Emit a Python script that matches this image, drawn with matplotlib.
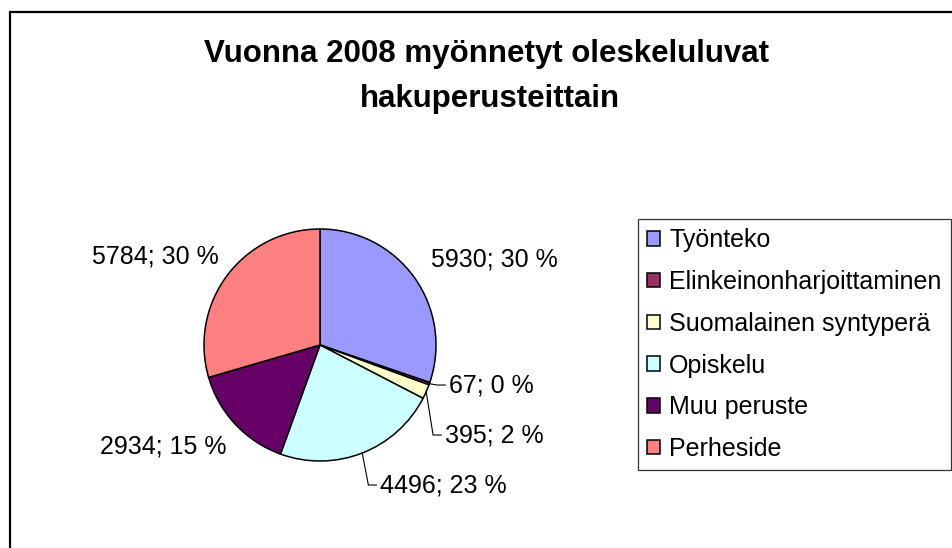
import matplotlib
matplotlib.use("Agg")
import matplotlib.pyplot as plt
import matplotlib.patches as mpatches
import numpy as np

# ---- data ----
categories = ["Työnteko", "Elinkeinonharjoittaminen", "Suomalainen syntyperä",
              "Opiskelu", "Muu peruste", "Perheside"]
values = [5930, 67, 395, 4496, 2934, 5784]
colors = ["#9999FF", "#993366", "#FFFFCC", "#CCFFFF", "#660066", "#FF8080"]
title_lines = ["Vuonna 2008 myönnetyt oleskeluluvat", "hakuperusteittain"]

# ---- layout ----
W, H = 952, 548
DPI = 100
plt.rcParams['font.family'] = ['Liberation Sans', 'DejaVu Sans']

fig = plt.figure(figsize=(W / DPI, H / DPI), dpi=DPI)
fig.patch.set_facecolor("white")

# outer chart border (extends beyond right/bottom edge)
border = mpatches.Rectangle((10 / W, -0.05), 1.1, 1 - 12 / H + 0.05,
                            transform=fig.transFigure, fill=False,
                            edgecolor="black", linewidth=1.6, clip_on=False)
fig.patches.append(border)

# title
fig.text(487 / W, 1 - 62 / H, title_lines[0], ha="center", va="baseline",
         fontsize=22.5, fontweight="bold")
fig.text(490 / W, 1 - 107 / H, title_lines[1], ha="center", va="baseline",
         fontsize=22.5, fontweight="bold")

# pie axes: center (320,345), radius 116 px
cx, cy, r = 320, 345, 116
ax = fig.add_axes([(cx - r) / W, (H - cy - r) / H, 2 * r / W, 2 * r / H])
wedges, _ = ax.pie(values, colors=colors, startangle=90, counterclock=False,
                   wedgeprops=dict(edgecolor="black", linewidth=1.1))
ax.set_xlim(-1, 1)
ax.set_ylim(-1, 1)
ax.set_aspect("equal")
ax.axis("off")

total = sum(values)
labels = [f"{v}; {round(100 * v / total):.0f} %" for v in values]

# label anchor positions (in pie-radius units) and alignment
label_pos = [(1.50, 0.733, "center"),
             (1.11, -0.345, "left"),
             (1.075, -0.776, "left"),
             (0.517, -1.207, "left"),
             (-1.353, -0.879, "center"),
             (-1.422, 0.767, "center")]
leader = [False, True, True, True, False, False]

cum = np.cumsum([0] + values) / total
for i, (lab, (lx, ly, ha)) in enumerate(zip(labels, label_pos)):
    ax.text(lx, ly, lab, ha=ha, va="center", fontsize=18, clip_on=False)
    if leader[i]:
        mid = 0.5 * (cum[i] + cum[i + 1])
        ang = np.deg2rad(90 - 360 * mid)
        ex, ey = np.cos(ang), np.sin(ang)
        kx = lx - 0.03
        ax.plot([ex, kx - 0.07, kx], [ey, ly, ly], color="black",
                linewidth=0.8, clip_on=False)

# legend
handles = [mpatches.Patch(facecolor=c, edgecolor="black", linewidth=1.1)
           for c in colors]
leg = fig.legend(handles, categories, loc="upper left",
                 bbox_to_anchor=(638 / W, 1 - 219 / H), borderaxespad=0,
                 fontsize=18, handlelength=0.52, handleheight=0.52,
                 handletextpad=0.36, labelspacing=0.71, borderpad=0.37,
                 frameon=True, fancybox=False)
leg.get_frame().set_edgecolor("black")
leg.get_frame().set_linewidth(0.9)

fig.savefig("out.png", dpi=DPI)
